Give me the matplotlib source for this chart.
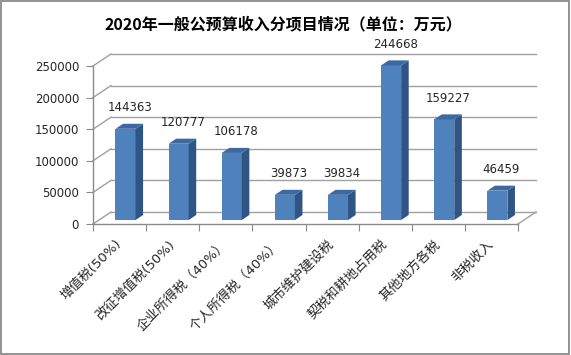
import matplotlib
matplotlib.use('Agg')
import matplotlib.pyplot as plt
from matplotlib.patches import Polygon, Rectangle
from matplotlib.lines import Line2D
import matplotlib.transforms as mtransforms

categories = ['增值税(50%)', '改征增值税(50%)', '企业所得税（40%）', '个人所得税（40%）',
              '城市维护建设税', '契税和耕地占用税', '其他地方各税', '非税收入']
values = [144363, 120777, 106178, 39873, 39834, 244668, 159227, 46459]
yticks = [0, 50000, 100000, 150000, 200000, 250000]
title = '2020年一般公预算收入分项目情况（单位：万元）'

plt.rcParams['font.family'] = ['DejaVu Sans', 'Noto Sans CJK SC']

DPI = 100
W, H = 571, 355
fig = plt.figure(figsize=(W / DPI, H / DPI), dpi=DPI)
fig.patch.set_facecolor('white')
ax = fig.add_axes([93 / W, 1 - 224 / H, 425 / W, 158 / H])
n = len(categories)
ax.set_xlim(0, n)
ax.set_ylim(0, yticks[-1])
ax.patch.set_visible(False)

DX, DY = 18, 12          # depth of the 3D box in pixels
F0, F1 = 0.33, 0.75      # bar front / back depth fractions
BW = 0.377               # bar width (category units)
grid_c = '#A0A0A0'
axis_c = '#8A8A8A'
front_c = '#4F81BD'
side_c = '#2F5486'
top_c = '#3D69A3'
ident = mtransforms.IdentityTransform()


def disp(x, y, d):
    px, py = ax.transData.transform((x, y))
    return (px + d * DX, py + d * DY)


def seg(p0, p1, **kw):
    ax.add_line(Line2D([p0[0], p1[0]], [p0[1], p1[1]], transform=ident,
                       clip_on=False, **kw))


# back wall gridlines and left wall diagonals
for v in yticks:
    seg(disp(0, v, 1), disp(n, v, 1), color=grid_c, lw=1.0, zorder=1)
    seg(disp(0, v, 0), disp(0, v, 1), color=grid_c, lw=1.0, zorder=1)
# floor right edge
seg(disp(n, 0, 0), disp(n, 0, 1), color=grid_c, lw=1.0, zorder=1)

# spines / axes
for s in ['top', 'right']:
    ax.spines[s].set_visible(False)
for s in ['left', 'bottom']:
    ax.spines[s].set_color(axis_c)
    ax.spines[s].set_linewidth(1.0)

ax.set_yticks(yticks)
ax.set_yticklabels([str(v) for v in yticks])
ax.tick_params(axis='y', length=5, color=axis_c, labelsize=8.5, pad=5,
               labelcolor='#262626')

ax.set_xticks(range(n + 1))
ax.set_xticklabels([])
ax.tick_params(axis='x', which='major', length=5, color=axis_c)
xc = [i + 0.5 for i in range(n)]
ax.set_xticks(xc, minor=True)
ax.set_xticklabels(categories, minor=True, rotation=45, ha='right', va='center',
                   rotation_mode='anchor', fontsize=9.5, color='#262626')
ax.tick_params(axis='x', which='minor', length=0, pad=13)

# bars: front faces
front_tr = ax.transData + mtransforms.ScaledTranslation(F0 * DX / DPI, F0 * DY / DPI,
                                                         fig.dpi_scale_trans)
ax.bar(xc, values, width=BW, color=front_c, transform=front_tr, zorder=3,
       clip_on=False, linewidth=0)

# bars: side and top faces
for x, v in zip(xc, values):
    xl, xr = x - BW / 2, x + BW / 2
    side = [disp(xr, 0, F0), disp(xr, 0, F1), disp(xr, v, F1), disp(xr, v, F0)]
    top = [disp(xl, v, F0), disp(xr, v, F0), disp(xr, v, F1), disp(xl, v, F1)]
    ax.add_patch(Polygon(side, closed=True, transform=ident, facecolor=side_c,
                         edgecolor='none', zorder=3, clip_on=False))
    ax.add_patch(Polygon(top, closed=True, transform=ident, facecolor=top_c,
                         edgecolor='none', zorder=3, clip_on=False))
    ax.annotate(str(v), (x, v), xytext=(10 * 72 / DPI, 25 * 72 / DPI),
                textcoords='offset points', ha='center', va='center',
                fontsize=8.5, color='#262626', zorder=4, annotation_clip=False)

fig.text(0.497, 0.932, title, ha='center', va='center', fontsize=11.5,
         fontweight='bold', family=['Noto Sans CJK SC', 'DejaVu Sans'])

fig.add_artist(Rectangle((0.002, 0.003), 0.995, 0.994, transform=fig.transFigure,
                         fill=False, edgecolor='#8A8A8A', lw=1.3))

fig.savefig('out.png', dpi=DPI)
